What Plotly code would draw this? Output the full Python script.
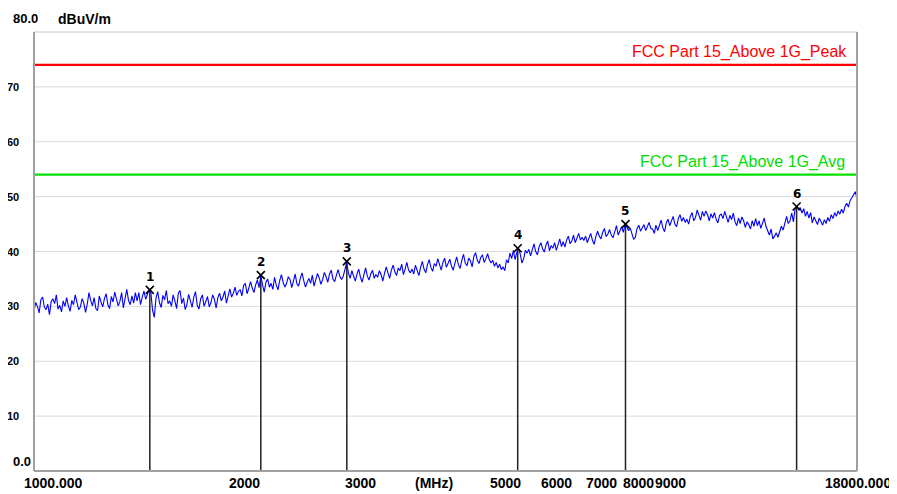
import numpy as np
import plotly.graph_objects as go

# ---- data ----
f_start, f_stop = 1000.0, 18000.0
levels = [
    29.2, 30.7, 30.0, 28.8, 31.2, 31.7, 29.9, 29.4, 30.4, 28.5, 30.9, 31.4, 30.5, 32.1, 29.5, 30.2, 29.0, 31.0, 30.0, 31.6,
    30.1, 29.1, 31.1, 30.3, 32.1, 30.9, 29.4, 29.9, 31.4, 30.6, 28.9, 30.4, 32.5, 31.1, 30.1, 31.6, 29.6, 29.2, 31.9, 30.8,
    29.9, 31.4, 32.3, 30.3, 29.6, 31.8, 30.8, 32.6, 31.3, 30.1, 30.9, 32.5, 29.7, 31.6, 33.1, 31.1, 30.3, 31.9, 30.6, 32.5,
    31.0, 32.5, 30.3, 31.7, 32.8, 31.3, 32.4, 33.1, 32.6, 29.3, 28.0, 31.5, 32.7, 30.7, 29.8, 32.0, 31.2, 32.9, 30.5, 31.0,
    30.0, 32.1, 31.0, 29.6, 32.4, 32.9, 30.5, 31.5, 29.4, 30.3, 32.2, 31.2, 29.8, 31.7, 32.7, 30.2, 29.5, 31.4, 32.1, 30.0,
    30.9, 31.8, 29.9, 30.7, 32.1, 31.3, 29.7, 31.6, 32.4, 31.0, 31.7, 32.8, 30.6, 32.0, 33.2, 31.7, 32.4, 33.5, 32.0, 32.8,
    33.0, 31.9, 33.8, 34.2, 32.3, 33.3, 34.5, 33.4, 32.5, 33.9, 34.8, 33.4, 35.6, 33.9, 32.6, 34.4, 35.0, 33.5, 34.2, 33.1,
    35.3, 33.9, 33.0, 34.7, 35.8, 34.4, 33.5, 34.2, 35.4, 34.9, 33.4, 34.6, 35.9, 34.1, 33.7, 35.1, 36.1, 34.7, 33.5, 34.4,
    35.1, 34.2, 35.7, 33.7, 34.7, 36.0, 35.2, 34.0, 34.9, 36.2, 35.4, 34.4, 35.9, 36.6, 35.0, 34.5, 35.7, 36.7, 35.5, 34.9,
    35.5, 36.6, 38.0, 36.1, 35.1, 36.5, 35.6, 34.6, 35.9, 36.8, 35.3, 34.4, 35.8, 37.0, 35.5, 34.8, 35.9, 36.6, 35.1, 35.8,
    35.3, 36.5, 35.8, 34.6, 36.0, 37.2, 36.1, 35.1, 36.6, 37.5, 36.3, 35.6, 37.0, 36.5, 37.7, 35.8, 36.8, 38.0, 36.6, 36.1,
    36.8, 35.9, 37.5, 36.6, 35.6, 37.1, 38.2, 36.8, 36.1, 37.6, 38.5, 37.1, 36.4, 37.8, 37.3, 38.7, 37.5, 36.6, 38.0, 38.8,
    37.1, 37.8, 38.6, 37.3, 36.6, 37.9, 39.0, 37.6, 36.9, 38.4, 39.5, 37.9, 37.4, 38.8, 38.3, 37.2, 39.1, 39.8, 38.4, 37.8,
    38.9, 39.4, 38.0, 38.7, 39.6, 38.5, 37.9, 38.4, 37.3, 38.0, 37.0, 37.7, 36.7, 37.2, 36.5, 38.5, 37.9, 39.7, 38.7, 40.2,
    38.5, 39.9, 40.6, 39.5, 37.9, 38.7, 40.2, 39.7, 40.4, 39.2, 40.4, 41.4, 40.0, 39.4, 40.9, 41.6, 40.5, 39.9, 41.2, 41.9,
    40.1, 41.1, 40.6, 41.6, 40.2, 41.3, 42.3, 40.9, 41.8, 40.8, 42.1, 42.8, 41.4, 41.9, 43.0, 41.6, 42.4, 43.3, 42.1, 42.6,
    42.0, 42.8, 41.6, 42.5, 43.3, 42.1, 41.3, 42.7, 43.7, 42.8, 42.3, 43.5, 44.2, 42.7, 43.2, 44.0, 43.0, 42.5, 43.9, 44.7,
    43.0, 43.8, 44.5, 43.5, 45.0, 44.5, 43.8, 44.3, 43.3, 42.2, 42.6, 44.2, 44.8, 43.7, 44.3, 44.9, 43.8, 44.5, 45.3, 44.2,
    44.1, 43.3, 44.8, 43.8, 45.0, 45.7, 44.3, 43.6, 45.2, 45.9, 44.7, 45.5, 46.4, 45.0, 44.5, 46.0, 46.7, 45.5, 46.2, 45.3,
    45.9, 45.0, 46.4, 47.1, 45.6, 46.2, 47.6, 46.6, 45.7, 47.3, 46.4, 47.4, 46.7, 45.6, 46.9, 46.1, 47.1, 45.9, 45.2, 46.6,
    46.8, 46.0, 47.3, 46.3, 45.3, 46.6, 45.8, 47.0, 45.4, 44.7, 46.1, 45.1, 46.3, 45.6, 44.4, 45.4, 44.9, 44.1, 45.6, 44.6,
    46.0, 44.7, 45.6, 44.2, 45.3, 46.1, 44.6, 43.7, 43.0, 44.1, 42.3, 42.8, 43.4, 42.6, 43.7, 44.6, 43.9, 45.4, 46.4, 45.1,
    45.6, 47.0, 45.4, 47.9, 48.2, 47.6, 48.0, 47.0, 47.8, 46.4, 47.3, 46.1, 47.1, 45.2, 46.3, 45.6, 44.9, 46.1, 45.4, 44.8,
    45.8, 45.1, 46.2, 45.5, 46.7, 46.0, 47.1, 46.4, 47.4, 46.8, 47.7, 47.0, 48.2, 48.8, 48.1, 49.3, 49.8, 50.5, 50.9, 49.6,
]
freqs = np.geomspace(f_start, f_stop, len(levels))

marker_ids = ["1", "2", "3", "4", "5", "6"]
marker_freqs = [1502, 2218, 3000, 5467, 7983, 14560]
marker_levels = [33.0, 35.7, 38.2, 40.6, 45.0, 48.2]

limit_peak = 74.0
limit_avg = 54.0
limit_peak_name = "FCC Part 15_Above 1G_Peak"
limit_avg_name = "FCC Part 15_Above 1G_Avg"

y_ticks = [10, 20, 30, 40, 50, 60, 70]
x_grid = [2000, 3000, 4000, 5000, 6000, 7000, 8000, 9000, 10000]
x_labels = [(1000, "1000.000", -12), (2000, "2000", -4), (3000, "3000", -4),
            (4000, "(MHz)", -16), (5000, "5000", -4), (6000, "6000", -5),
            (7000, "7000", -4), (8000, "8000", -5), (9000, "9000", -7)]

# ---- figure ----
# page body has an 8px margin: screen coords = figure coords + 8
OFF = 8
SW, SH = 897, 494
PL, PR, PT, PB = 34, 857, 32, 471   # plot box in screen pixels
W, H = SW - OFF, SH - OFF
L, R, T, B = PL - OFF, SW - PR, PT - OFF, SH - PB
pw, ph = PR - PL, PB - PT


def px(xs):
    return (xs - PL) / pw


def py(ys):
    return (PB - ys) / ph


fig = go.Figure()

# marker stems
sx, sy = [], []
for f, v in zip(marker_freqs, marker_levels):
    sx += [f, f, None]
    sy += [0, v, None]
fig.add_trace(go.Scatter(x=sx, y=sy, mode="lines",
                         line=dict(color="#222222", width=1.5),
                         hoverinfo="skip", showlegend=False))

# limit lines
fig.add_trace(go.Scatter(x=[f_start, f_stop], y=[limit_peak, limit_peak], mode="lines",
                         line=dict(color="#ff0000", width=2.2), showlegend=False))
fig.add_trace(go.Scatter(x=[f_start, f_stop], y=[limit_avg, limit_avg], mode="lines",
                         line=dict(color="#00e000", width=2.2), showlegend=False))

# trace
fig.add_trace(go.Scatter(x=freqs, y=levels, mode="lines",
                         line=dict(color="#0000ff", width=1.1), showlegend=False))

# markers
fig.add_trace(go.Scatter(x=marker_freqs, y=marker_levels, mode="markers",
                         marker=dict(symbol="x-thin-open", size=8, color="#000000",
                                     line=dict(color="#000000", width=1.6)),
                         showlegend=False))

ann = []
for f, v, t in zip(marker_freqs, marker_levels, marker_ids):
    ann.append(dict(x=np.log10(f), y=v, xref="x", yref="y", text="<b>" + t + "</b>",
                    showarrow=False, yshift=13,
                    font=dict(family="DejaVu Sans", size=12, color="#000000")))

# y tick labels
for v in y_ticks:
    ann.append(dict(x=px(21), y=v / 80, xref="paper", yref="paper", text="<b>%d</b>" % v,
                    showarrow=False, xanchor="right", yanchor="middle",
                    font=dict(family="Liberation Sans", size=11, color="#000000")))
ann.append(dict(x=px(11), y=py(461), xref="paper", yref="paper", text="<b>0.0</b>",
                showarrow=False, xanchor="left", yanchor="middle",
                font=dict(family="Liberation Sans", size=13, color="#000000")))
ann.append(dict(x=px(11), y=py(19), xref="paper", yref="paper", text="<b>80.0</b>",
                showarrow=False, xanchor="left", yanchor="middle",
                font=dict(family="Liberation Sans", size=13, color="#000000")))
ann.append(dict(x=px(56), y=py(19), xref="paper", yref="paper", text="<b>dBuV/m</b>",
                showarrow=False, xanchor="left", yanchor="middle",
                font=dict(family="Liberation Sans", size=14, color="#000000")))

# x tick labels
for f, t, sh in x_labels:
    ann.append(dict(x=np.log10(f), y=py(483), xref="x", yref="paper", text="<b>" + t + "</b>",
                    showarrow=False, xanchor="left", yanchor="middle", xshift=sh,
                    font=dict(family="Liberation Sans", size=14, color="#000000")))
ann.append(dict(x=px(858), y=py(483), xref="paper", yref="paper",
                text="<b>18000.000</b>", showarrow=False, xanchor="center", yanchor="middle",
                font=dict(family="Liberation Sans", size=14, color="#000000")))

# limit names
ann.append(dict(x=px(849), y=py(52), xref="paper", yref="paper",
                text=limit_peak_name, showarrow=False, xanchor="right", yanchor="middle",
                font=dict(family="Liberation Sans", size=16, color="#ff0000")))
ann.append(dict(x=px(847), y=py(162), xref="paper", yref="paper",
                text=limit_avg_name, showarrow=False, xanchor="right", yanchor="middle",
                font=dict(family="Liberation Sans", size=16, color="#00dd00")))

shapes = []
for g in x_grid:
    shapes.append(dict(type="line", xref="x", yref="paper", x0=np.log10(g), x1=np.log10(g),
                       y0=0, y1=1, line=dict(color="#d9d9d9", width=1), layer="below"))
for v in y_ticks:
    shapes.append(dict(type="line", xref="paper", yref="y", x0=0, x1=1, y0=v, y1=v,
                       line=dict(color="#d9d9d9", width=1), layer="below"))
# frame
shapes.append(dict(type="line", xref="paper", yref="paper", x0=0, x1=1, y0=1, y1=1,
                   line=dict(color="#c8c8c8", width=1)))
shapes.append(dict(type="line", xref="paper", yref="paper", x0=0, x1=0, y0=0, y1=1,
                   line=dict(color="#a0a0a0", width=2)))
shapes.append(dict(type="line", xref="paper", yref="paper", x0=1, x1=1, y0=0, y1=1,
                   line=dict(color="#a0a0a0", width=2)))
shapes.append(dict(type="line", xref="paper", yref="paper", x0=0, x1=1, y0=0, y1=0,
                   line=dict(color="#a0a0a0", width=2)))

fig.update_layout(
    width=W, height=H,
    margin=dict(l=L, r=R, t=T, b=B, autoexpand=False),
    paper_bgcolor="white", plot_bgcolor="white",
    xaxis=dict(type="log", range=[np.log10(f_start), np.log10(f_stop)],
               showgrid=False, zeroline=False, showticklabels=False, showline=False, ticks=""),
    yaxis=dict(range=[0, 80], showgrid=False, zeroline=False, showticklabels=False,
               showline=False, ticks=""),
    annotations=ann, shapes=shapes, showlegend=False,
)

fig.write_html("out.html")
